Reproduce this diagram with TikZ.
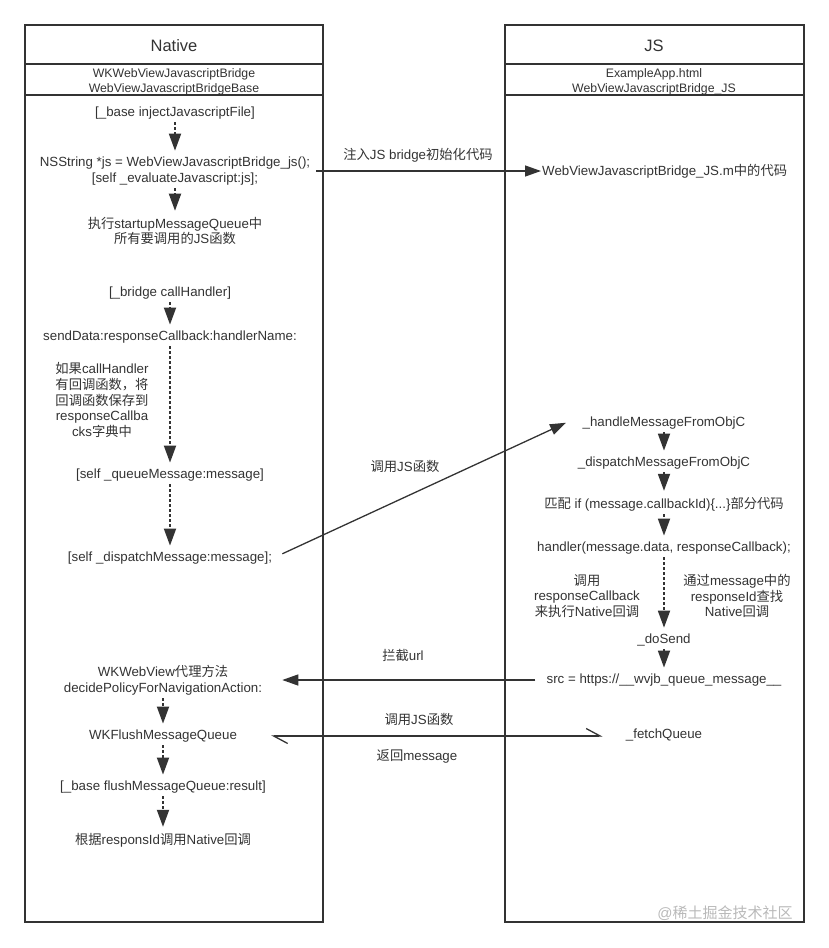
\documentclass[tikz,border=0pt]{standalone}
\usepackage{fontspec}
\setmainfont{Liberation Sans}
\newfontfamily\cjkfont{Noto Sans CJK SC}
\newcommand\zh[1]{{\cjkfont #1}}
\usetikzlibrary{arrows.meta, positioning}
\definecolor{inkgray}{HTML}{333333}

\begin{document}
\begin{tikzpicture}[
	x=1pt, y=-1pt,
	every node/.style = {text=inkgray},
			 txt/.style = {font=\fontsize{13.3}{15.8}\selectfont, align=center, inner sep=1pt},
		 small/.style = {font=\fontsize{12.3}{14.5}\selectfont, align=center, inner sep=0pt},
		 title/.style = {font=\fontsize{16.5}{18}\selectfont},
			lane/.style = {draw=inkgray, line width=1.8pt},
			flow/.style = {draw=inkgray, line width=1.8pt, dash pattern=on 2.5pt off 2.5pt,
										 -{Triangle[length=17pt, width=12pt]},
										 shorten <=2pt, shorten >=5pt},
			 msg/.style = {draw=inkgray, line width=1.3pt, -{Triangle[length=16pt, width=11pt]}},
		duplex/.style = {draw=inkgray, line width=1.3pt,
										 {Straight Barb[harpoon, length=14pt, width=15pt]}-{Straight Barb[harpoon, length=14pt, width=15pt]}}
	]
\useasboundingbox (0,0) rectangle (828,948);

% the two lanes
\draw[lane] (25,25) rectangle (323,922);
\draw[lane] (25,64) -- (323,64) (25,95) -- (323,95);
\draw[lane] (505,25) rectangle (804,922);
\draw[lane] (505,64) -- (804,64) (505,95) -- (804,95);

\node[title] (native) at (174,46) {Native};
\node[small] (nativesrc) at (174,82) {WKWebViewJavascriptBridge\\WebViewJavascriptBridgeBase};
\node[title] (js) at (654,46) {JS};
\node[small] (jssrc) at (654,82) {ExampleApp.html\\WebViewJavascriptBridge\_JS};

%% Native side
\node[txt] (inject)      at (175,113) {{[}\_base injectJavascriptFile{]}};          % <-- N-1
\node[txt] (evaljs)      at (175,171) {NSString *js = WebViewJavascriptBridge\_js();\\
																			{[}self \_evaluateJavascript:js{]};};        % <-- N-2
\node[txt] (startup)     at (175,231) {\zh{执行}startupMessageQueue\zh{中}\\
																			\zh{所有要调用的}JS\zh{函数}};
\node[txt] (callhandler) at (170,293) {{[}\_bridge callHandler{]}};
\node[txt] (senddata)    at (170,337) {sendData:responseCallback:handlerName:};
\node[txt] (savecb)      at (102,400) {\zh{如果}callHandler\\\zh{有回调函数，将}\\
																			\zh{回调函数保存到}\\responseCallba\\cks\zh{字典中}};
\node[txt] (queuemsg)    at (170,475) {{[}self \_queueMessage:message{]}};
\node[txt] (dispatchmsg) at (170,558) {{[}self \_dispatchMessage:message{]};};

\node[txt] (decide)      at (163,680) {WKWebView\zh{代理方法}\\decidePolicyForNavigationAction:};
\node[txt] (flush)       at (163,736) {WKFlushMessageQueue};
\node[txt] (flushresult) at (163,787) {{[}\_base flushMessageQueue:result{]}};
\node[txt] (callnative)  at (163,840) {\zh{根据}responsId\zh{调用}Native\zh{回调}};

%% JS side
\node[txt, anchor=west] (jscode) at (541,171) {WebViewJavascriptBridge\_JS.m\zh{中的代码}};
\node[txt] (handlemsg)   at (664,423) {\_handleMessageFromObjC};
\node[txt] (dispatchjs)  at (664,463) {\_dispatchMessageFromObjC};
\node[txt] (matchcb)     at (664,504) {\zh{匹配} if (message.callbackId)\{...\}\zh{部分代码}};
\node[txt] (handler)     at (664,548) {handler(message.data, responseCallback);};
\node[txt] (callresp)    at (587,596) {\zh{调用}\\responseCallback\\\zh{来执行}Native\zh{回调}};
\node[txt] (findresp)    at (737,596) {\zh{通过}message\zh{中的}\\responseId\zh{查找}\\Native\zh{回调}};
\node[txt] (dosend)      at (664,640) {\_doSend};
\node[txt] (src)         at (664,680) {src = https://\_\_wvjb\_queue\_message\_\_};
\node[txt] (fetch)       at (664,735) {\_fetchQueue};

%% labels on the messages
\node[txt] (injectlabel) at (418,155) {\zh{注入}JS bridge\zh{初始化代码}};
\node[txt] (calljs)      at (405,466) {\zh{调用}JS\zh{函数}};
\node[txt] (intercept)   at (403,655) {\zh{拦截}url};
\node[txt] (callfetch)   at (419,719) {\zh{调用}JS\zh{函数}};
\node[txt] (backmsg)     at (417,756) {\zh{返回}message};

\node[font=\fontsize{15}{17}\selectfont, text=gray!55] (mark) at (725,913) {@\zh{稀土掘金技术社区}};

%%
\draw[flow] (inject) -- (evaljs);
\draw[flow] (evaljs) -- (startup);
\draw[flow] (callhandler) -- (senddata);
\draw[flow] (senddata) -- (queuemsg);
\draw[flow] (queuemsg) -- (dispatchmsg);
\draw[flow] (decide) -- (flush);
\draw[flow] (flush) -- (flushresult);
\draw[flow] (flushresult) -- (callnative);

\draw[flow] (handlemsg) -- (dispatchjs);
\draw[flow] (dispatchjs) -- (matchcb);
\draw[flow] (matchcb) -- (handler);
\draw[flow] (handler) -- (dosend);
\draw[flow] (dosend) -- (src);

\draw[msg, shorten <=5pt] (evaljs.east |- jscode.west) -- (jscode.west);
\draw[msg, shorten <=10pt, shorten >=17pt] (dispatchmsg.east) -- (handlemsg.north west);
\draw[msg, shorten <=10pt, shorten >=19pt] (src.west) -- (src.west -| decide.east);
\draw[duplex, shorten <=33pt, shorten >=22pt] (flush.east) -- (flush.east -| fetch.west);
\end{tikzpicture}
\end{document}
